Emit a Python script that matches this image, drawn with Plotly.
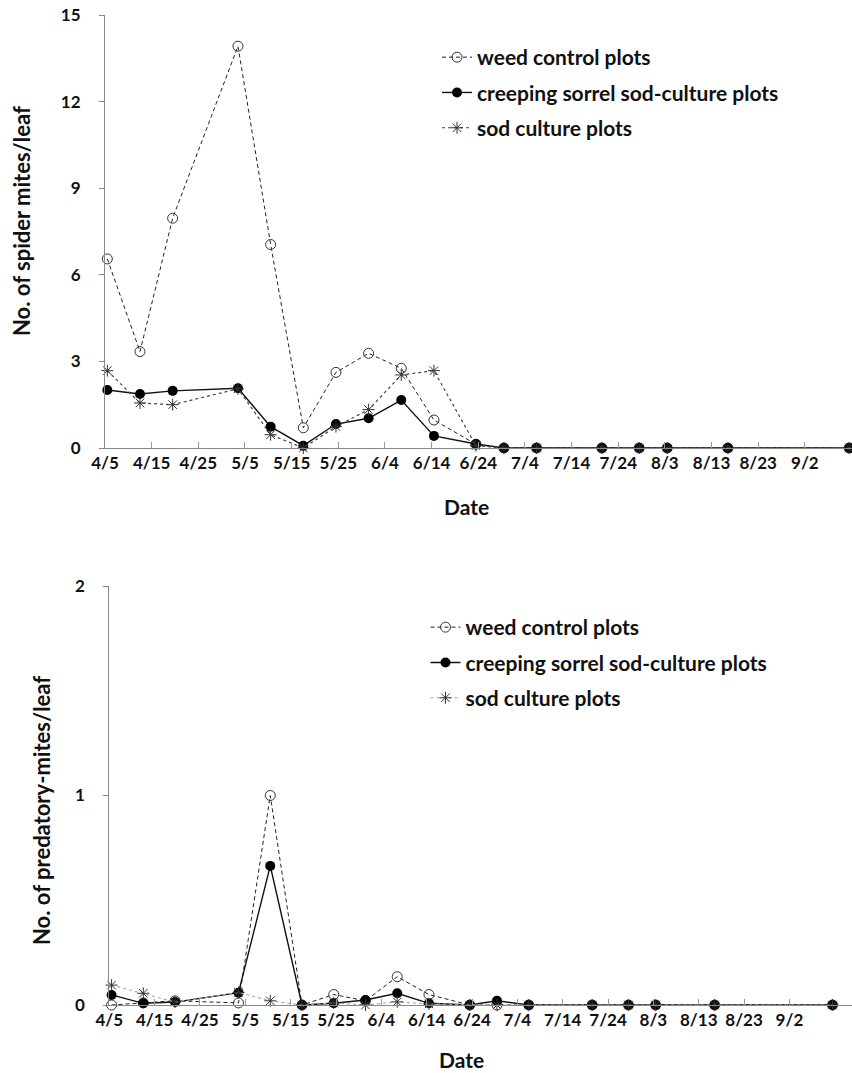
import pandas as pd
import plotly.graph_objects as go

# ---- data ----
dates = ["2010-04-05", "2010-04-12", "2010-04-19", "2010-05-03", "2010-05-10", "2010-05-17",
         "2010-05-24", "2010-05-31", "2010-06-07", "2010-06-14", "2010-06-23", "2010-06-29",
         "2010-07-06", "2010-07-20", "2010-07-28", "2010-08-03", "2010-08-16", "2010-09-11"]

spider_weed = [6.55, 3.34, 7.96, 13.92, 7.05, 0.70, 2.62, 3.28, 2.76, 0.97, 0.13, 0, 0, 0, 0, 0, 0, 0]
spider_sorrel = [2.01, 1.87, 1.98, 2.07, 0.74, 0.08, 0.83, 1.03, 1.66, 0.42, 0.14, 0, 0, 0, 0, 0, 0, 0]
spider_sod = [2.68, 1.56, 1.50, 2.05, 0.46, 0.0, 0.74, 1.33, 2.53, 2.68, 0.08, 0, 0, 0, 0, 0, 0, 0]

pred_weed = [0, 0.01, 0.02, 0.01, 1.0, 0, 0.05, 0.02, 0.135, 0.05, 0, 0, 0, 0, 0, 0, 0, 0]
pred_sorrel = [0.048, 0.008, 0.014, 0.059, 0.664, 0, 0.008, 0.024, 0.056, 0.008, 0, 0.02, 0, 0, 0, 0, 0, 0]
pred_sod = [0.095, 0.056, 0.014, 0.06, 0.02, 0, 0.01, 0, 0.015, 0.005, 0, 0, 0, 0, 0, 0, 0, 0]

series_names = ["weed control plots", "creeping sorrel sod-culture plots", "sod culture plots"]
x_tick_dates = ["2010-04-05", "2010-04-15", "2010-04-25", "2010-05-05", "2010-05-15", "2010-05-25",
                "2010-06-04", "2010-06-14", "2010-06-24", "2010-07-04", "2010-07-14", "2010-07-24",
                "2010-08-03", "2010-08-13", "2010-08-23", "2010-09-02"]
x_tick_labels = ["4/5", "4/15", "4/25", "5/5", "5/15", "5/25", "6/4", "6/14", "6/24", "7/4",
                 "7/14", "7/24", "8/3", "8/13", "8/23", "9/2"]
top_y_ticks = [0, 3, 6, 9, 12, 15]
bot_y_ticks = [0, 1, 2]

# ---- figure ----
W, H = 852, 1073
FONT = "Lato"
start = pd.Timestamp("2010-04-05")
DAY_MS = 86400000

fig = go.Figure()

def add_series(ys, xaxis, yaxis, legend, sod_color):
    styles = [
        dict(line=dict(color="#222", width=1, dash="4px,3px"),
             marker=dict(symbol="circle-open", size=10, color="#333", line=dict(width=1))),
        dict(line=dict(color="#111", width=1.4, dash="solid"),
             marker=dict(symbol="circle", size=10, color="#000")),
        dict(line=dict(color=sod_color, width=1.2, dash="dot"),
             marker=dict(symbol="asterisk-open", size=10, color="#333", line=dict(width=1, color="#333"))),
    ]
    for name, y, st in zip(series_names, ys, styles):
        fig.add_trace(go.Scatter(
            x=dates, y=y, name=name, mode="lines+markers",
            xperiod=DAY_MS, xperiodalignment="middle",
            line=st["line"], marker=st["marker"],
            xaxis=xaxis, yaxis=yaxis, legend=legend, legendgroup=legend + name,
            cliponaxis=False,
        ))

add_series([spider_weed, spider_sorrel, spider_sod], "x", "y", "legend", "#444")
add_series([pred_weed, pred_sorrel, pred_sod], "x2", "y2", "legend2", "#aaa")

def py(px):
    return (H - px) / H

tick_font = dict(family=FONT, size=17, color="#111", weight="bold")
axis_common = dict(showgrid=False, zeroline=False, showline=True, linecolor="#888", linewidth=1,
                   automargin=False)

x_common = dict(axis_common, type="date", tickmode="array", tickvals=x_tick_dates, ticktext=x_tick_labels,
                ticks="inside", ticklen=6, tickcolor="#999", tickfont=tick_font)

legend_font = dict(family=FONT, size=21, color="#111", weight="bold")

fig.update_layout(
    width=W, height=H, margin=dict(l=0, r=0, t=0, b=0, autoexpand=False),
    paper_bgcolor="white", plot_bgcolor="white",
    font=dict(family=FONT, color="#111"),
    xaxis=dict(x_common, domain=[105 / W, 1.0], anchor="y",
               range=[start, start + pd.Timedelta(days=160.1)]),
    yaxis=dict(axis_common, domain=[py(448), py(15)], range=[0, 15], tickvals=top_y_ticks,
               ticks="outside", ticklen=5, tickcolor="#888", tickfont=tick_font,
               ticklabelstandoff=15, anchor="x"),
    xaxis2=dict(x_common, domain=[109.3 / W, 1.0], anchor="y2",
                range=[start, start + pd.Timedelta(days=163.8)]),
    yaxis2=dict(axis_common, domain=[py(1005), py(586)], range=[0, 2], tickvals=bot_y_ticks,
                ticks="outside", ticklen=5, tickcolor="#888", tickfont=tick_font,
                ticklabelstandoff=15, anchor="x2"),
    legend=dict(x=437 / W, y=py(37), xanchor="left", yanchor="top", bgcolor="rgba(0,0,0,0)",
                font=legend_font, tracegroupgap=5, traceorder="grouped"),
    legend2=dict(x=425.5 / W, y=py(607), xanchor="left", yanchor="top", bgcolor="rgba(0,0,0,0)",
                 font=legend_font, tracegroupgap=5, traceorder="grouped"),
    showlegend=True,
)

title_font = dict(family=FONT, size=22, color="#111", weight="bold")
date_font = dict(family=FONT, size=21, color="#111", weight="bold")
fig.add_annotation(text="No. of spider mites/leaf", x=21 / W, y=py(221), xref="paper", yref="paper",
                   textangle=-90, showarrow=False, font=title_font, xanchor="center", yanchor="middle")
fig.add_annotation(text="No. of predatory-mites/leaf", x=41 / W, y=py(811), xref="paper", yref="paper",
                   textangle=-90, showarrow=False, font=title_font, xanchor="center", yanchor="middle")
fig.add_annotation(text="Date", x=466 / W, y=py(507), xref="paper", yref="paper",
                   showarrow=False, font=date_font, xanchor="center", yanchor="middle")
fig.add_annotation(text="Date", x=461 / W, y=py(1059), xref="paper", yref="paper",
                   showarrow=False, font=date_font, xanchor="center", yanchor="middle")

fig.write_html("out.html")
